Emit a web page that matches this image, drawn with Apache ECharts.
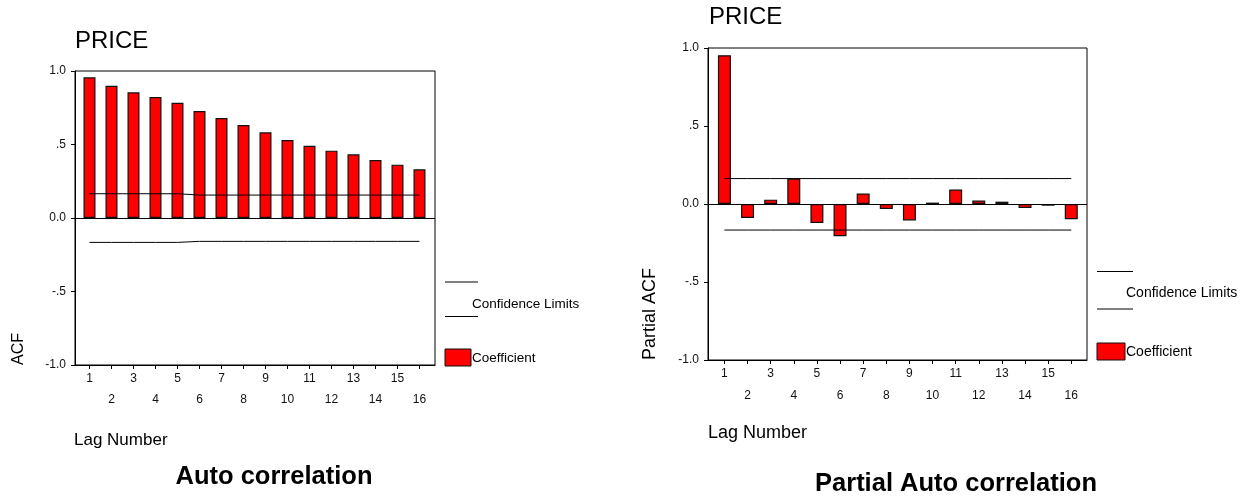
<!DOCTYPE html>
<html>
<head>
<meta charset="utf-8">
<script src="https://cdn.jsdelivr.net/npm/echarts@6/dist/echarts.min.js"></script>
<style>
html,body{margin:0;padding:0;background:#fff;}
#chart{width:1249px;height:498px;}
</style>
</head>
<body>
<div id="chart"></div>
<script>
// ---- data ----
var lags = [1,2,3,4,5,6,7,8,9,10,11,12,13,14,15,16];
var acfValues = [0.957,0.900,0.855,0.823,0.784,0.728,0.680,0.633,0.583,0.531,0.492,0.458,0.433,0.394,0.363,0.331];
var acfUpper = [0.165,0.165,0.165,0.165,0.165,0.156,0.156,0.156,0.156,0.156,0.156,0.156,0.156,0.156,0.156,0.156];
var acfLower = [-0.166,-0.166,-0.166,-0.166,-0.166,-0.159,-0.159,-0.159,-0.159,-0.159,-0.159,-0.159,-0.159,-0.159,-0.159,-0.159];
var pacfValues = [0.954,-0.090,0.028,0.163,-0.122,-0.207,0.067,-0.032,-0.105,0.009,0.093,0.022,0.015,-0.026,-0.011,-0.098];
var pacfUpper = [0.163,0.163,0.163,0.163,0.163,0.163,0.163,0.163,0.163,0.163,0.163,0.163,0.163,0.163,0.163,0.163];
var pacfLower = [-0.167,-0.167,-0.167,-0.167,-0.167,-0.167,-0.167,-0.167,-0.167,-0.167,-0.167,-0.167,-0.167,-0.167,-0.167,-0.167];
var yTickLabels = {'1':'1.0','0.5':'.5','0':'0.0','-0.5':'-.5','-1':'-1.0'};
var seriesTitle = 'PRICE';
var leftTitle = 'Auto correlation';
var rightTitle = 'Partial Auto correlation';
var leftYName = 'ACF';
var rightYName = 'Partial ACF';
var xName = 'Lag Number';
var legendLimits = 'Confidence Limits';
var legendCoef = 'Coefficient';

var FONT = '"Liberation Sans", Arial, sans-serif';
function pairs(xs, ys){ return xs.map(function(x,i){return [x, ys[i]];}); }

var chart = echarts.init(document.getElementById('chart'), null, {renderer:'canvas'});

function xAxisCfg(idx, min, max, lh){
  return {
    type:'value', gridIndex:idx, min:min, max:max,
    axisLine:{onZero:false, lineStyle:{color:'#000', width:1}},
    axisTick:{show:true, customValues:lags, length:4, lineStyle:{color:'#000'}},
    splitLine:{show:false},
    axisLabel:{customValues:lags, color:'#111', fontFamily:FONT, fontSize:12, margin:3, lineHeight:lh,
      formatter:function(v){ return (v % 2 === 1) ? String(v) : '\n' + v; }}
  };
}
function yAxisCfg(idx){
  return {
    type:'value', gridIndex:idx, min:-1, max:1, interval:0.5,
    axisLine:{show:true, lineStyle:{color:'#000', width:1}},
    axisTick:{show:true, length:4, lineStyle:{color:'#000'}},
    splitLine:{show:false},
    axisLabel:{color:'#111', fontFamily:FONT, fontSize:12, margin:9,
      formatter:function(v){ var k = String(Math.round(v*10)/10); return yTickLabels[k] !== undefined ? yTickLabels[k] : k; }}
  };
}
function barSeries(idx, vals, bw){
  return {
    type:'bar', xAxisIndex:idx, yAxisIndex:idx, data:pairs(lags, vals), barWidth:bw,
    itemStyle:{color:'#ff0000', borderColor:'#111', borderWidth:1.2},
    silent:true, animation:false,
    markLine:{silent:true, symbol:'none', label:{show:false}, lineStyle:{color:'#000', width:1, type:'solid'},
      data:[{yAxis:0}]}
  };
}
function limitSeries(idx, vals){
  return {
    type:'line', xAxisIndex:idx, yAxisIndex:idx, data:pairs(lags, vals), showSymbol:false, symbol:'none',
    lineStyle:{color:'#000', width:1}, silent:true, animation:false, z:3
  };
}
function txt(x, y, s, size, opts){
  opts = opts || {};
  return {type:'text', x:x, y:y, rotation:opts.rot || 0, silent:true, z:10,
    style:{text:s, font:(opts.bold?'bold ':'') + size + 'px ' + FONT, fill:'#000',
      textAlign:opts.align || 'left', textVerticalAlign:'middle'}};
}
function hline(x1, x2, y){
  return {type:'line', silent:true, shape:{x1:x1, y1:y, x2:x2, y2:y}, style:{stroke:'#000', lineWidth:1}};
}
function box(x, y, w, h){
  return {type:'rect', silent:true, shape:{x:x, y:y, width:w, height:h}, style:{fill:'#ff0000', stroke:'#111', lineWidth:1}};
}

var option = {
  backgroundColor:'#fff',
  animation:false,
  grid:[
    {left:75, top:71, width:360, height:294, show:true, borderColor:'#000', borderWidth:1, backgroundColor:'transparent'},
    {left:708, top:48, width:379, height:312, show:true, borderColor:'#000', borderWidth:1, backgroundColor:'transparent'}
  ],
  xAxis:[ xAxisCfg(0, 0.341, 16.705, 21), xAxisCfg(1, 0.29, 16.68, 22) ],
  yAxis:[ yAxisCfg(0), yAxisCfg(1) ],
  series:[
    barSeries(0, acfValues, 12),
    limitSeries(0, acfUpper),
    limitSeries(0, acfLower),
    barSeries(1, pacfValues, 13),
    limitSeries(1, pacfUpper),
    limitSeries(1, pacfLower)
  ],
  graphic:[
    txt(75, 41, seriesTitle, 24),
    txt(709, 17, seriesTitle, 24),
    txt(19, 365, leftYName, 16, {rot:Math.PI/2}),
    txt(650, 360, rightYName, 18, {rot:Math.PI/2}),
    txt(74, 440, xName, 17),
    txt(708, 433, xName, 18),
    txt(274, 477, leftTitle, 25.5, {bold:true, align:'center'}),
    txt(956, 484, rightTitle, 25.5, {bold:true, align:'center'}),
    // legends
    hline(445, 478, 282), hline(445, 478, 316.5),
    txt(472, 304, legendLimits, 13.5),
    box(445, 349, 26, 17),
    txt(472, 358, legendCoef, 13.5),
    hline(1097, 1133, 271.5), hline(1097, 1133, 309),
    txt(1126, 293, legendLimits, 14),
    box(1097, 343, 28, 17),
    txt(1126, 352, legendCoef, 14)
  ]
};
chart.setOption(option);
</script>
</body>
</html>
